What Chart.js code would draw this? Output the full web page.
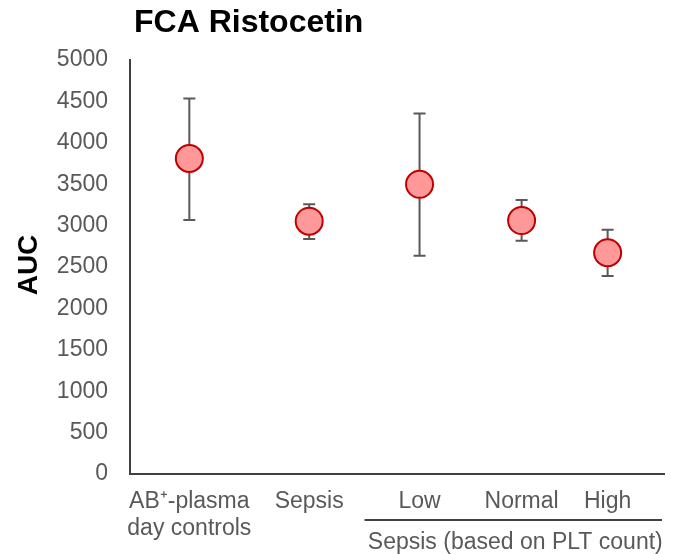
<!DOCTYPE html>
<html>
<head>
<meta charset="utf-8">
<script src="https://cdn.jsdelivr.net/npm/chart.js@4.4.0/dist/chart.umd.min.js"></script>
<style>
  html, body { margin: 0; padding: 0; background: #fff; }
  #wrap { width: 673px; height: 554px; }
</style>
</head>
<body>
<div id="wrap"><canvas id="fcaChart" width="673" height="554"></canvas></div>
<script>
// groups and their place along the x axis (0..9)
var groups = [['AB\u207A-plasma', 'day controls'], ['Sepsis'], ['Low'], ['Normal'], ['High']];
var groupX = [1, 3.02, 4.88, 6.6, 8.05];
var aucMean = [3810, 3053, 3498, 3061, 2672];
var aucUpper = [4535, 3257, 4355, 3309, 2949];
var aucLower = [3069, 2837, 2636, 2816, 2392];
var yTicks = [0, 500, 1000, 1500, 2000, 2500, 3000, 3500, 4000, 4500, 5000];

var grey = '#595959';
var axisColor = '#404040';
var font = 'Arial, "Liberation Sans", sans-serif';

var points = groupX.map(function(x, i) { return { x: x, y: aucMean[i] }; });

// whiskers behind the markers
var errorBars = {
    id: 'errorBars',
    beforeDatasetsDraw: function(chart) {
        var ctx = chart.ctx;
        var xs = chart.scales.x, ys = chart.scales.y;
        ctx.save();
        ctx.strokeStyle = grey;
        ctx.lineWidth = 2;
        groupX.forEach(function(x, i) {
            var px = xs.getPixelForValue(x);
            var top = ys.getPixelForValue(aucUpper[i]);
            var bot = ys.getPixelForValue(aucLower[i]);
            ctx.beginPath();
            ctx.moveTo(px, top); ctx.lineTo(px, bot);
            ctx.moveTo(px - 6, top); ctx.lineTo(px + 6, top);
            ctx.moveTo(px - 6, bot); ctx.lineTo(px + 6, bot);
            ctx.stroke();
        });
        ctx.restore();
    }
};

// title, axis title, category labels and the bracket for the PLT subgroups
var labels = {
    id: 'labels',
    afterDraw: function(chart) {
        var ctx = chart.ctx;
        var xs = chart.scales.x, area = chart.chartArea;
        ctx.save();
        ctx.fillStyle = '#000';
        ctx.font = 'bold 32px ' + font;
        ctx.textAlign = 'left';
        ctx.textBaseline = 'middle';
        ctx.fillText('FCA Ristocetin', 134, 23);

        ctx.save();
        ctx.translate(29, 265);
        ctx.rotate(-Math.PI / 2);
        ctx.textAlign = 'center';
        ctx.font = 'bold 28px ' + font;
        ctx.fillText('AUC', 0, 0);
        ctx.restore();

        ctx.fillStyle = grey;
        ctx.font = '23px ' + font;
        ctx.textAlign = 'center';
        groups.forEach(function(lines, i) {
            var px = xs.getPixelForValue(groupX[i]);
            lines.forEach(function(t, j) {
                ctx.fillText(t, px, area.bottom + 28 + j * 27);
            });
        });

        var left = xs.getPixelForValue(groupX[2]) - 55;
        ctx.strokeStyle = axisColor;
        ctx.lineWidth = 2;
        ctx.beginPath();
        ctx.moveTo(left, area.bottom + 46);
        ctx.lineTo(area.right - 2, area.bottom + 46);
        ctx.stroke();
        ctx.fillText('Sepsis (based on PLT count)', (left + area.right) / 2 + 1, area.bottom + 69);
        ctx.restore();
    }
};

new Chart(document.getElementById('fcaChart').getContext('2d'), {
    type: 'scatter',
    data: {
        datasets: [{
            data: points,
            pointRadius: 13.5,
            pointHoverRadius: 13.5,
            pointBackgroundColor: '#FF9999',
            pointBorderColor: '#C00000',
            pointBorderWidth: 2
        }]
    },
    options: {
        responsive: false,
        animation: false,
        layout: { autoPadding: false, padding: { top: 60, right: 9, bottom: 80, left: 0 } },
        plugins: { legend: { display: false }, tooltip: { enabled: false } },
        scales: {
            x: {
                type: 'linear',
                min: 0,
                max: 9,
                grid: { display: false, drawTicks: false },
                ticks: { display: false },
                border: { display: true, color: axisColor, width: 2 },
                afterFit: function(s) { s.height = 0; }
            },
            y: {
                min: 0,
                max: 5000,
                afterBuildTicks: function(s) { s.ticks = yTicks.map(function(v) { return { value: v }; }); },
                grid: { display: false, drawTicks: false },
                border: { display: true, color: axisColor, width: 2 },
                ticks: {
                    color: grey,
                    font: { family: font, size: 23 },
                    padding: 22,
                    callback: function(v) { return String(v); }
                },
                afterFit: function(s) { s.width = 130; }
            }
        }
    },
    plugins: [errorBars, labels]
});
</script>
</body>
</html>
